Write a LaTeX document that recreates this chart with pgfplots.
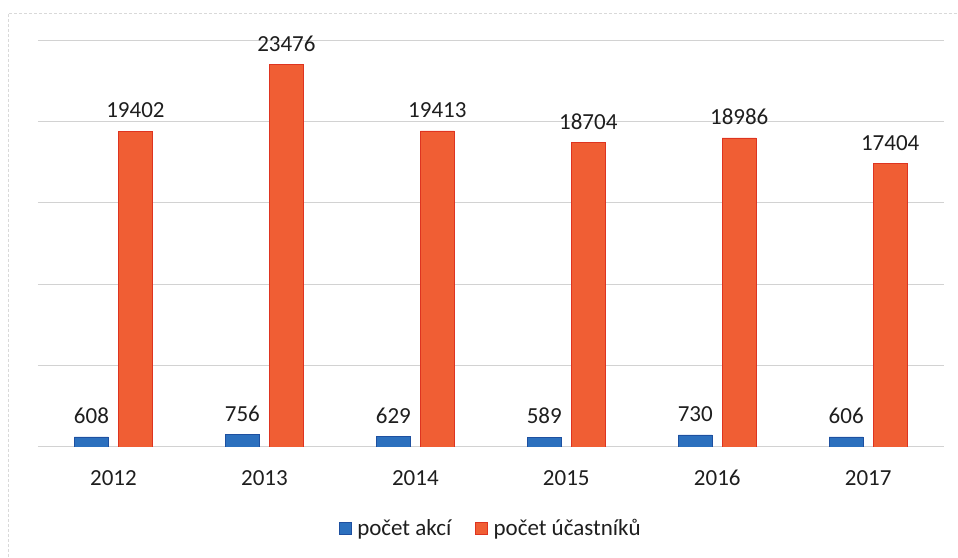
\documentclass[border=0pt]{standalone}
\usepackage{pgfplots}
\pgfplotsset{compat=1.18}
\usepackage{fontspec}
\setmainfont{Carlito}
\definecolor{cblue}{RGB}{44,112,190}
\definecolor{cblueedge}{RGB}{30,80,160}
\definecolor{corange}{RGB}{240,94,52}
\definecolor{corangeedge}{RGB}{222,52,32}
\definecolor{ctext}{RGB}{30,30,30}
\begin{document}
\begin{tikzpicture}[x=1pt,y=1pt]
\path (0,0) rectangle (958,557);
\draw[gray!30, line width=0.7pt, densely dashed] (8,0) -- (8,544) -- (958,544);
\begin{axis}[
  at={(38pt,110pt)}, anchor=south west,
  scale only axis, width=906pt, height=407pt,
  xmin=-0.5, xmax=5.5, ymin=0, ymax=25000,
  ybar=10pt, bar width=34pt,
  xtick={0,1,2,3,4,5},
  xticklabels={2012,2013,2014,2015,2016,2017},
  ytick={0,5000,10000,15000,20000,25000},
  yticklabels={},
  scaled y ticks=false,
  ymajorgrids,
  grid style={gray!35, line width=0.7pt},
  axis line style={draw=none},
  major tick length=0pt,
  tick align=outside,
  font=\fontsize{23}{27}\selectfont\color{ctext},
  xticklabel style={yshift=-20pt, font=\fontsize{23}{27}\selectfont\color{ctext}},
  /pgf/number format/assume math mode=true,
  /pgf/number format/1000 sep={},
  nodes near coords,
  every node near coord/.append style={yshift=9.5pt, font=\fontsize{23}{27}\selectfont\color{ctext}},
  legend columns=2,
  legend style={draw=none, fill=none, at={(0.5,-0.199)}, anchor=center,
    font=\fontsize{23}{27}\selectfont\color{ctext},
    /tikz/every even column/.append style={column sep=22pt},
    legend cell align=left},
  legend image code/.code={\fill[#1] (0pt,-6pt) rectangle (12pt,6pt); \path[draw=none,fill=none] (0pt,0pt) rectangle (16pt,1pt);},
]
\addplot[fill=cblue, draw=cblueedge, line width=0.6pt] coordinates {(0,608) (1,756) (2,629) (3,589) (4,730) (5,606)};
\addplot[fill=corange, draw=corangeedge, line width=0.6pt] coordinates {(0,19402) (1,23476) (2,19413) (3,18704) (4,18986) (5,17404)};
\legend{počet akcí, počet účastníků}
\end{axis}
\end{tikzpicture}
\end{document}
